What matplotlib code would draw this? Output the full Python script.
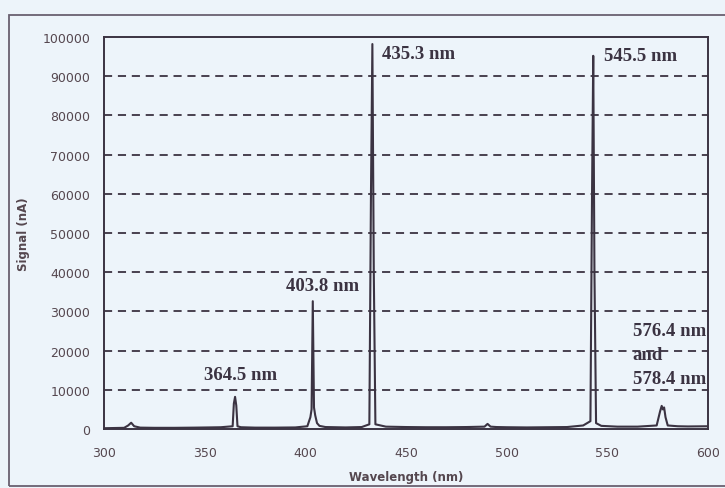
import matplotlib
matplotlib.use("Agg")
import matplotlib.pyplot as plt
from matplotlib.patches import Rectangle

# Spectrum (wavelength nm as drawn on the axis, signal nA)
wavelength = [300, 305, 310, 312, 313.5, 315, 318, 325, 335, 345, 352, 358, 363.9, 364.5,
              365.1, 365.7, 366.3, 368, 375, 385, 395, 401, 402.5, 403.1, 403.7, 404.3,
              404.9, 405.8, 407, 410, 420, 428, 431.8, 432.6, 433.3, 434.0, 434.8, 440,
              450, 460, 470, 480, 489, 490.5, 492, 495, 500, 510, 520, 530, 538, 541.6,
              542.4, 543.0, 543.6, 544.4, 547, 555, 565, 574.5, 576.2, 577.0, 577.6,
              578.2, 578.9, 580.0, 585, 590, 600]
signal = [200, 250, 300, 900, 1600, 700, 350, 300, 300, 350, 400, 450, 700, 6500,
          8200, 6000, 700, 450, 350, 350, 400, 700, 3000, 5000, 32600, 5500,
          3500, 1500, 800, 500, 400, 500, 1200, 60000, 98200, 40000, 1200, 600,
          500, 450, 450, 500, 600, 1300, 600, 500, 450, 400, 450, 500, 900, 2000,
          60000, 95200, 40000, 1500, 800, 600, 600, 900, 4500, 5900, 5000,
          5500, 3000, 900, 700, 650, 700]

peak_labels = ["364.5 nm", "403.8 nm", "435.3 nm", "545.5 nm", "576.4 nm", "and", "578.4 nm"]
label_x = [349.7, 390.4, 438.1, 548.3, 562.5, 562.5, 562.5]
label_y = [13800, 36500, 95900, 95400, 25000, 19100, 13000]

y_ticks = [0, 10000, 20000, 30000, 40000, 50000, 60000, 70000, 80000, 90000, 100000]
x_ticks = [300, 350, 400, 450, 500, 550, 600]

bg = "#edf4fa"
ink = "#3b3342"
txt = "#55474f"

fig = plt.figure(figsize=(7.25, 4.89), dpi=100)
fig.patch.set_facecolor(bg)
ax = fig.add_axes([104 / 725, 1 - 430 / 489, (708 - 104) / 725, (430 - 38) / 489])
ax.set_facecolor(bg)

# outer frame of the chart area (runs off the right edge)
fig.patches.append(Rectangle((9 / 725, 2 / 489), 760 / 725, (489 - 16 - 2) / 489,
                             transform=fig.transFigure, fill=False,
                             edgecolor="#6a6070", linewidth=1.3))

for yv in y_ticks[1:-1]:
    ax.axhline(yv, color=ink, linestyle=(0, (4.5, 3.2)), linewidth=1.3, zorder=1)

ax.plot(wavelength, signal, color=ink, linewidth=1.5, zorder=3)

for s, xv, yv in zip(peak_labels, label_x, label_y):
    ax.text(xv, yv, s, ha="left", va="center", clip_on=False,
            fontfamily="Liberation Serif", fontweight="bold", fontsize=13.5,
            color=ink, zorder=4)

ax.set_xlim(300, 600)
ax.set_ylim(0, 100000)
ax.set_xticks(x_ticks)
ax.set_yticks(y_ticks)
ax.set_xticklabels([str(v) for v in x_ticks])
ax.set_yticklabels([str(v) for v in y_ticks])
ax.tick_params(length=0, labelsize=9, labelcolor=txt)
ax.tick_params(axis="x", pad=12)
ax.tick_params(axis="y", pad=10)
for sp in ax.spines.values():
    sp.set_color(ink)
    sp.set_linewidth(1.4)

ax.set_xlabel("Wavelength (nm)", fontsize=8.5, fontweight="bold", color=txt, labelpad=8)
ax.set_ylabel("Signal (nA)", fontsize=8.5, fontweight="bold", color=txt, labelpad=9)

fig.savefig("out.png", dpi=100, facecolor=bg)
